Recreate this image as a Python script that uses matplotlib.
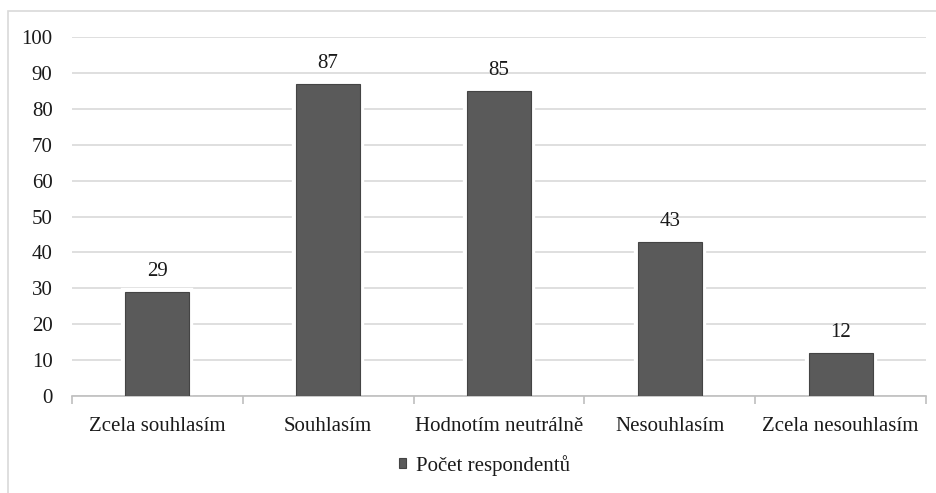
import matplotlib.pyplot as plt
import matplotlib.patches as ptc

categories = ['Zcela souhlasím', 'Souhlasím', 'Hodnotím neutrálně', 'Nesouhlasím', 'Zcela nesouhlasím']
counts = [29, 87, 85, 43, 12]
series_name = 'Počet respondentů'
yticks = list(range(0, 101, 10))

plt.rcParams['font.family'] = ['Liberation Serif', 'DejaVu Serif']

fig = plt.figure(figsize=(9.37, 4.93), dpi=100)
ax = fig.add_axes([0.0768, 0.1967, 0.9115, 0.7283])

# outer chart frame
fig.patches.append(ptc.Rectangle((0.0085, -0.5), 1.5, 1.478, transform=fig.transFigure,
                                 fill=False, edgecolor='#d9d9d9', linewidth=1.2))

x = list(range(len(categories)))
# white halo behind bars breaks the gridlines around them
ax.bar(x, counts, width=0.375, color='#5a5a5a', edgecolor='white', linewidth=6, zorder=2)
bars = ax.bar(x, counts, width=0.375, color='#5a5a5a', edgecolor='#444444', linewidth=0.8,
              zorder=3, label=series_name)
for xi, v in zip(x, counts):
    ax.text(xi, v + 3, str(v), ha='center', va='bottom', fontsize=15, color='#1a1a1a')

ax.set_xlim(-0.5, len(categories) - 0.5)
ax.set_ylim(0, 100)
ax.set_yticks(yticks)
ax.yaxis.grid(True, color='#d9d9d9', linewidth=1.2, zorder=0)
ax.set_axisbelow(True)

for s in ['top', 'right', 'left']:
    ax.spines[s].set_visible(False)
ax.spines['bottom'].set_color('#bfbfbf')
ax.spines['bottom'].set_linewidth(1.2)

ax.set_xticks([i - 0.5 for i in range(len(categories) + 1)])
ax.set_xticklabels([])
ax.set_xticks(x, minor=True)
ax.set_xticklabels(categories, minor=True)
ax.tick_params(axis='x', which='major', length=6, color='#bfbfbf', width=1.2)
ax.tick_params(axis='x', which='minor', length=0, pad=15, labelsize=15, labelcolor='#1a1a1a')
ax.tick_params(axis='y', length=0, pad=14, labelsize=15, labelcolor='#1a1a1a')

fig.legend(handles=[bars], labels=[series_name], loc='center', bbox_to_anchor=(0.517, 0.056),
           frameon=False, fontsize=15, handlelength=0.35, handleheight=0.35, handletextpad=0.45,
           labelcolor='#1a1a1a')

fig.savefig('out.png', dpi=100)
